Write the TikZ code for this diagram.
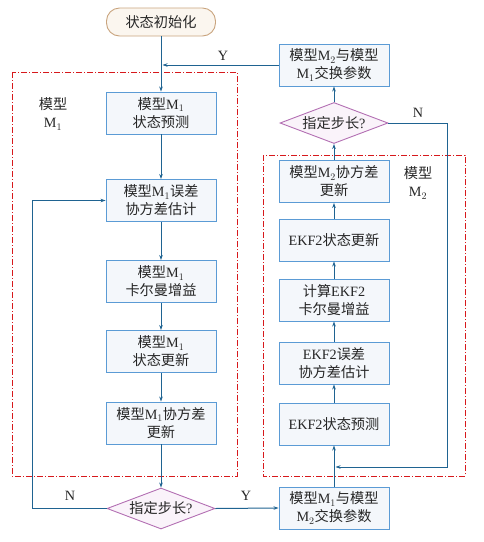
\documentclass[tikz,border=0pt]{standalone}
\usepackage{fontspec}
\setmainfont{Liberation Serif}
\newfontfamily\cjk{Noto Sans CJK SC}
\usetikzlibrary{shapes.geometric,arrows.meta}
\newcommand{\zh}[1]{{\cjk #1}}
\definecolor{boxblue}{HTML}{5B9BD5}
\definecolor{boxfill}{HTML}{F4F7FB}
\definecolor{arrblue}{HTML}{1F6391}
\definecolor{dmline}{HTML}{B36FB3}
\definecolor{dmfill}{HTML}{FAF3FA}
\definecolor{stline}{HTML}{C9A47E}
\definecolor{stfill}{HTML}{FBF6EF}
\definecolor{redline}{HTML}{D7191C}
\begin{document}
\begin{tikzpicture}[x=1pt,y=-1pt,
  txt/.style={font=\fontsize{14.2}{18}\selectfont, align=center, text=black!85},
  procbox/.style={txt, draw=boxblue, fill=boxfill, line width=0.9pt, minimum width=110pt, minimum height=42pt, inner sep=0pt},
  decide/.style={txt, shape=diamond, aspect=2.6, draw=dmline, fill=dmfill, line width=0.9pt, minimum width=108pt, minimum height=41pt, inner sep=0pt},
  startbox/.style={txt, draw=stline, fill=stfill, line width=0.9pt, rounded corners=13pt, minimum width=109pt, minimum height=28pt, inner sep=0pt},
  arr/.style={draw=arrblue, line width=1pt, -{Stealth[length=5pt,width=3.5pt]}},
  region/.style={draw=redline, line width=0.8pt, dash pattern=on 6pt off 2pt on 1pt off 2pt},
  lbl/.style={txt}
]
\useasboundingbox (0,0) rectangle (484,542);
% regions
\draw[region] (12,72) rectangle (237,476);
\draw[region] (263,155) rectangle (465,476);
\node[lbl] (m1lbl) at (53,114) {\zh{模型}\\M$_1$};
\node[lbl] (m2lbl) at (418,183) {\zh{模型}\\M$_2$};
% left column
\node[startbox] (start) at (161,22) {\zh{状态初始化}};
\node[procbox] (b1) at (161,113) {\zh{模型}M$_1$\\\zh{状态预测}};
\node[procbox] (b2) at (161,200.5) {\zh{模型}M$_1$\zh{误差}\\\zh{协方差估计}};
\node[procbox] (b3) at (161,281.5) {\zh{模型}M$_1$\\\zh{卡尔曼增益}};
\node[procbox] (b4) at (161,351.5) {\zh{模型}M$_1$\\\zh{状态更新}};
\node[procbox] (b5) at (161,423) {\zh{模型}M$_1$\zh{协方差}\\\zh{更新}};
\node[decide] (d1) at (161,508.5) {\zh{指定步长}?};
% right column
\node[procbox] (r0) at (334,508) {\zh{模型}M$_1$\zh{与模型}\\M$_2$\zh{交换参数}};
\node[procbox] (r1) at (334,424) {EKF2\zh{状态预测}};
\node[procbox] (r2) at (334,363) {EKF2\zh{误差}\\\zh{协方差估计}};
\node[procbox] (r3) at (334,300) {\zh{计算}EKF2\\\zh{卡尔曼增益}};
\node[procbox] (r4) at (334,240) {EKF2\zh{状态更新}};
\node[procbox] (r5) at (334,181.5) {\zh{模型}M$_2$\zh{协方差}\\\zh{更新}};
\node[decide] (d2) at (334,123) {\zh{指定步长}?};
\node[procbox] (rt) at (334,65) {\zh{模型}M$_2$\zh{与模型}\\M$_1$\zh{交换参数}};
% junctions
\coordinate (j1) at (162.5,65);
\coordinate (j2) at (335.5,467);
\coordinate (nl) at (32,0);
\coordinate (nr) at (447,0);
% connectors left
\draw[arr] (start) -- (b1);
\draw[arr] (b1) -- (b2);
\draw[arr] (b2) -- (b3);
\draw[arr] (b3) -- (b4);
\draw[arr] (b4) -- (b5);
\draw[arr] (b5) -- (d1);
\draw[arr] (d1.west) -- (d1.west -| nl) |- (b2.west);
\draw[arr] (d1.east) -- (r0.west);
% connectors right
\draw[arr] (r0) -- (r1);
\draw[arr] (r1) -- (r2);
\draw[arr] (r2) -- (r3);
\draw[arr] (r3) -- (r4);
\draw[arr] (r4) -- (r5);
\draw[arr] (r5) -- (d2);
\draw[arr] (d2) -- (rt);
\draw[arr] (rt.west) -- (j1);
\draw[arr] (d2.east) -- (d2.east -| nr) |- (j2);
% labels
\node[lbl] (ytop) at (223,56) {Y};
\node[lbl] (nbot) at (70,496) {N};
\node[lbl] (ybot) at (246,496) {Y};
\node[lbl] (nright) at (418,113) {N};
\end{tikzpicture}
\end{document}
